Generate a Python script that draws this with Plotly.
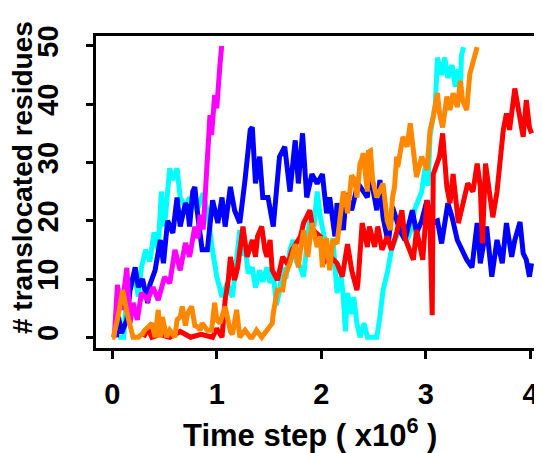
import plotly.graph_objects as go

# ---- data ----
magenta_x = [0.02,0.05,0.09,0.14,0.17,0.20,0.24,0.28,0.34,0.39,0.44,0.50,0.55,0.60,0.65,0.70,0.74,0.79,0.82,0.84,0.87,0.89,0.905,0.925,0.935,0.95,0.96,0.98,1.0,1.015,1.03,1.047]
magenta_y = [0,9,4.7,11.9,2.4,5.9,3,7.6,6.4,8.6,6.4,10.3,9.3,15,11.5,16.2,13.8,19,17,21,18.5,24.4,29,34.7,38.1,34.7,37.6,41.6,39.3,44.5,46.7,50]

cyan_x = [0.06,0.11,0.13,0.17,0.21,0.25,0.28,0.32,0.36,0.40,0.44,0.47,0.50,0.53,0.55,0.58,0.62,0.65,0.70,0.74,0.81,0.87,0.92,0.95,1.00,1.05,1.10,1.15,1.19,1.22,
          1.24,1.27,1.30,1.34,1.37,1.41,1.44,1.48,1.51,1.54,1.57,1.60,1.63,1.66,1.70,1.73,1.76,1.80,1.83,1.86,1.89,1.93,1.96,1.99,2.03,2.08,2.11,2.15,2.19,2.21,2.23,2.25,2.29,2.31,2.34,2.37,2.41,2.44,2.48,2.53,
          2.56,2.59,2.63,2.67,2.72,2.77,2.82,2.87,2.89,2.96,2.99,3.02,3.04,3.09,3.11,3.15,3.18,3.21,3.25,3.28,3.31,3.33,3.34,3.36]
cyan_y = [0,0,5,9,11,7,12,15,13,18,15,25,19,24,29,27,29,24,22.4,24,21.8,24.7,20.6,16,10.4,6.9,9.3,6.9,12.7,18.4,
          14,16,11,12,8.5,11.5,9.5,12,9.3,11,5.5,8,12,10,15,16.7,13,12,10.4,16,20.7,19,25,20.7,17,13.8,17,7.6,10.4,6.9,1,7.6,4,6.9,2.4,0,2.4,0,0,0,
          3.5,8.1,11,15,17.3,19.6,16.7,19,21.8,25,29,26,34.7,40,48,45,48,44.5,46.7,43,46,42.7,48.4,49.8]

blue_x = [0.04,0.06,0.09,0.14,0.17,0.22,0.25,0.29,0.34,0.36,0.41,0.46,0.49,0.53,0.58,0.62,0.65,0.67,0.70,0.72,0.74,0.77,0.79,0.82,0.86,0.91,0.94,0.96,1.01,1.05,1.08,1.13,1.17,1.22,1.27,1.32,1.34,1.37,1.41,1.44,1.49,1.54,1.60,1.65,1.70,1.75,1.78,1.82,1.86,1.91,1.96,2.01,2.05,2.08,2.13,2.15,2.21,2.24,2.29,2.35,2.44,2.46,2.53,2.56,2.59,2.64,2.68,2.75,2.80,2.87,2.91,2.96,3.01,3.06,3.11,3.15,3.21,3.25,3.30,3.34,3.39,3.44,3.49,3.52,3.58,3.63,3.68,3.73,3.77,3.82,3.85,3.90,3.93,3.96,3.99,4.01]
blue_y = [0,3.5,0.7,3,8,12,8.6,10,5.9,9,11.5,16.7,12.7,20,17.9,24,19,20.7,23,22.4,19,25,25.8,20.6,15,15,20.6,23.5,19.6,24,19,25.8,21.8,19.6,27,35.6,36,26.4,31,24,24,19,31,32.7,25,33.8,26.4,35,24,28,26.4,28,21.3,24,17.3,23,18.4,24.7,21.8,26.4,24,28.7,21.8,27,20.6,16.1,22.4,18.4,16.7,21.8,17.9,20,23.5,19.6,20,16.1,23,20.6,16.7,15,13.3,12,19.6,12.7,19,10.4,16.7,12.7,19.6,13.8,16.7,19.8,14.4,13.3,10.4,12.7]

red_x = [0.30,0.34,0.38,0.45,0.55,0.65,0.75,0.85,0.96,1.00,1.05,1.08,1.11,1.13,1.17,1.20,1.25,1.29,1.34,1.37,1.39,1.43,1.46,1.48,1.51,1.53,1.58,1.63,1.68,1.72,1.80,1.83,1.89,1.92,1.99,2.02,2.08,2.15,2.20,2.24,2.25,2.29,2.34,2.35,2.39,2.44,2.46,2.51,2.54,2.58,2.63,2.67,2.72,2.77,2.80,2.88,2.91,2.97,3.01,3.04,3.06,3.07,3.11,3.13,3.16,3.20,3.23,3.26,3.31,3.35,3.40,3.45,3.49,3.52,3.54,3.57,3.61,3.64,3.68,3.71,3.74,3.77,3.80,3.85,3.90,3.93,3.96,3.99,4.01]
red_y = [0,1.5,0,0.5,0,1,0,0.5,0,1.5,0,6.4,9.8,13.8,9.8,12,19,13.8,16.7,13.8,17.3,19,15,13.8,16.7,11.5,9.8,13.8,12.5,15,17.3,19.6,21.8,18.4,17.3,12.7,14,12.7,10.4,14.4,16,11.5,8.1,9.3,19.6,15.5,19,15.5,19,15,17.3,15,18,21.8,17,13.3,18.4,13.3,23.5,18.4,3.8,28,30.4,31,35,25.8,23,28,19.6,23,26.4,25,29.8,25.8,16.1,29.8,25,20.6,25,31,35.6,38.4,35.6,42.7,37.3,34.4,40.7,36,35]

orange_x = [0.00,0.01,0.05,0.10,0.15,0.19,0.20,0.25,0.29,0.31,0.38,0.41,0.44,0.46,0.48,0.52,0.55,0.60,0.62,0.65,0.67,0.70,0.72,0.76,0.79,0.82,0.84,0.86,0.91,0.95,0.98,1.00,1.03,1.08,1.13,1.15,1.17,1.19,1.22,1.27,1.32,1.34,1.38,1.43,1.48,1.53,1.54,1.56,1.58,1.60,1.63,1.65,1.68,1.70,1.75,1.78,1.80,1.83,1.87,1.89,1.91,1.96,1.99,2.01,2.03,2.05,2.08,2.11,2.15,2.18,2.21,2.23,2.25,2.29,2.32,2.34,2.37,2.39,2.40,2.44,2.45,2.47,2.49,2.53,2.59,2.63,2.66,2.68,2.70,2.72,2.73,2.78,2.82,2.85,2.88,2.91,2.96,3.01,3.04,3.07,3.11,3.13,3.16,3.20,3.23,3.26,3.30,3.33,3.35,3.39,3.42,3.45,3.49]
orange_y = [0,0,3,8.1,3.5,0.7,0,0,0.6,1.2,2.4,0,4.7,0,3.5,0,1.2,0,3,3.5,5.3,2,4,5.3,2,1.8,1.2,2.4,1.2,1.2,5.9,3,2.4,5.3,1,0.5,3.5,4.7,0,1.2,0,0,1.2,0,1.2,2.4,4.1,6.4,8.1,8.1,8.1,10.4,11.5,12.7,16,12,15,18.4,13.8,17.3,19.6,15.5,17.3,12,16,17,11.5,16.7,16.1,20.6,25,24,21.3,27.8,27,24,29.8,30.7,31.6,25,31.8,32,27,24,26.4,20,18.4,24,25.8,31,29.2,34.4,32.7,36.7,32.7,27.5,31,28.7,35.6,37.8,41.9,38.4,36,41.3,39,41.9,39.5,44,40.7,39,45.2,47,49.8]

x_ticks = [0, 1, 2, 3, 4]
y_ticks = [0, 10, 20, 30, 40, 50]
x_title = "Time step ( x10<sup>6</sup> )"
y_title = "# translocated residues"

series = [
    (cyan_x, cyan_y, "#00FFFF"),
    (blue_x, blue_y, "#0000FF"),
    (red_x, red_y, "#FF0000"),
    (magenta_x, magenta_y, "#FF00FF"),
    (orange_x, orange_y, "#FF8800"),
]

fig = go.Figure()
for xs, ys, col in series:
    fig.add_trace(go.Scatter(x=xs, y=ys, mode="lines",
                             line=dict(color=col, width=5),
                             showlegend=False, hoverinfo="skip"))

font_family = "Liberation Sans, Arial, sans-serif"
# page body adds an 8px margin, so the figure is laid out 8px smaller
W, H = 534, 445
ML, MR, MT, MB = 88, 0, 28, 105
pw, ph = W - ML - MR, H - MT - MB

def px_to_paper(px, py):
    return ((px - ML) / pw, (H - MB - py) / ph)

xt_x, xt_y = px_to_paper(302, 425)
yt_x, yt_y = px_to_paper(14, 170)

fig.update_layout(
    width=W, height=H,
    margin=dict(l=ML, r=MR, t=MT, b=MB),
    paper_bgcolor="white", plot_bgcolor="white",
    font=dict(family=font_family, color="black"),
    xaxis=dict(
        range=[-0.155, 4.11], tickvals=x_ticks, ticktext=[str(v) for v in x_ticks],
        automargin=False,
        showgrid=False, zeroline=False,
        showline=True, linecolor="black", linewidth=3, mirror=True,
        ticks="outside", ticklen=8, tickwidth=3, tickcolor="black",
        ticklabelstandoff=10,
        tickfont=dict(size=29, family=font_family, weight="bold"),
    ),
    yaxis=dict(
        range=[-1.84, 51.7], tickvals=y_ticks, ticktext=[str(v) for v in y_ticks],
        automargin=False,
        showgrid=False, zeroline=False,
        showline=True, linecolor="black", linewidth=3, mirror=False,
        ticks="outside", ticklen=7, tickwidth=3, tickcolor="black",
        tickangle=-90, ticklabelstandoff=16,
        tickfont=dict(size=29, family=font_family, weight="bold"),
    ),
    annotations=[
        dict(text=x_title, xref="paper", yref="paper", x=xt_x, y=xt_y,
             xanchor="center", yanchor="middle", showarrow=False,
             font=dict(size=31, family=font_family, weight="bold", color="black")),
        dict(text=y_title, xref="paper", yref="paper", x=yt_x, y=yt_y,
             xanchor="center", yanchor="middle", showarrow=False, textangle=-90,
             font=dict(size=28, family=font_family, weight="bold", color="black")),
    ],
)

fig.write_html("out.html")
